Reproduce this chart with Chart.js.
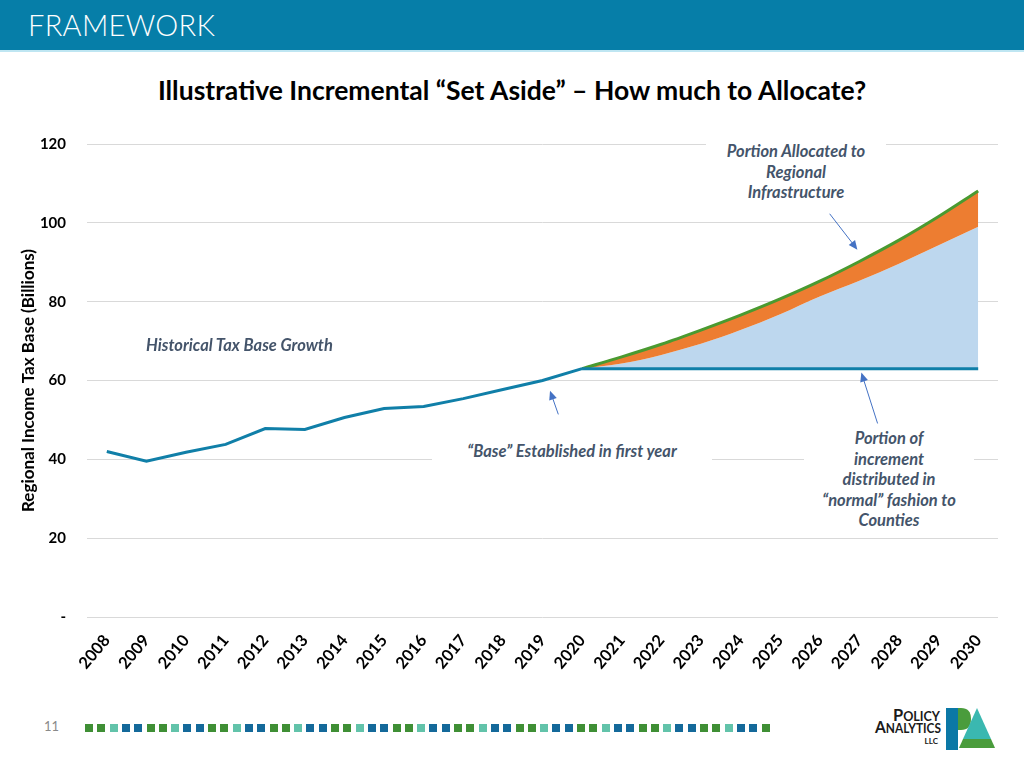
<!DOCTYPE html>
<html lang="en">
<head>
    <meta charset="UTF-8">
    <title>Framework - Incremental Set Aside</title>
    <script src="https://cdn.jsdelivr.net/npm/chart.js"></script>
    <style>
        body {
            margin: 0;
            width: 1024px;
            height: 768px;
            position: relative;
            overflow: hidden;
            background: #fff;
            font-family: Lato, "Open Sans", sans-serif;
        }

        .header {
            position: absolute;
            left: 0; top: 0;
            width: 1024px; height: 50px;
            background: #067ea8;
            border-bottom: 2px solid #bfe6f2;
        }

        .header span {
            position: absolute;
            left: 28px; top: 7px;
            color: #fff;
            font-size: 29px;
            font-weight: 300;
            letter-spacing: 0.3px;
        }

        .title {
            position: absolute;
            left: 0; top: 74px;
            width: 1024px;
            text-align: center;
            font-size: 26.5px;
            font-weight: bold;
            color: #000;
        }

        .chart-box {
            position: absolute;
            left: 0; top: 114px;
            width: 1010px; height: 576px;
        }

        .note {
            position: absolute;
            background: #fff;
            color: #44546a;
            font-size: 16.5px;
            font-weight: bold;
            font-style: italic;
            text-align: center;
            line-height: 20.5px;
        }

        .page-num {
            position: absolute;
            left: 44px; top: 718px;
            font-size: 13px;
            color: #8a8a8a;
        }

        .dashes {
            position: absolute;
            left: 85px; top: 724px;
            height: 8px;
        }

        .dashes div {
            position: absolute;
            top: 0;
            width: 8px; height: 8px;
        }

        .logo {
            position: absolute;
            left: 858px; top: 702px;
            width: 140px; height: 50px;
        }
    </style>
</head>
<body>
    <div class="header"><span>FRAMEWORK</span></div>
    <div class="title">Illustrative Incremental “Set Aside” – How much to Allocate?</div>

    <div class="chart-box">
        <canvas id="setAsideChart" width="1010" height="576"></canvas>
    </div>

    <div class="note" style="left:706px; top:141px; width:180px;">Portion Allocated to<br>Regional<br>Infrastructure</div>
    <div class="note" style="left:146px; top:335px; background:transparent; text-align:left;">Historical Tax Base Growth</div>
    <div class="note" style="left:432px; top:441px; width:280px;">“Base” Established in first year</div>
    <div class="note" style="left:804px; top:428px; width:170px;">Portion of<br>increment<br>distributed in<br>“normal” fashion to<br>Counties</div>

    <div class="page-num">11</div>
    <div class="dashes" id="dashes"></div>

    <svg class="logo" viewBox="0 0 140 50">
        <text x="82" y="19" text-anchor="end" font-family="Lato, sans-serif" font-size="17" font-weight="bold" fill="#1a1a1a" textLength="47" lengthAdjust="spacingAndGlyphs">P<tspan font-size="13">OLICY</tspan></text>
        <text x="83" y="31" text-anchor="end" font-family="Lato, sans-serif" font-size="17" font-weight="bold" fill="#1a1a1a" textLength="66" lengthAdjust="spacingAndGlyphs">A<tspan font-size="13">NALYTICS</tspan></text>
        <text x="80" y="42" text-anchor="end" font-family="Lato, sans-serif" font-size="8" font-weight="bold" fill="#1a1a1a">LLC</text>
        <path d="M88 6 L100 6 L100 48 L88 48 Z" fill="#0b78a6"/>
        <path d="M100 6 L103 6 Q113 6 113 17 Q113 28 103 28 L100 28 Z" fill="#4a9c3c"/>
        <path d="M119 6 L133 37 L105 37 Z" fill="#3ab8b0"/>
        <path d="M105 37 L133 37 L137 46 L101 46 Z" fill="#4a9c3c"/>
    </svg>

    <script>
        // ---- chart data (Billions) ----
        const years = ['2008', '2009', '2010', '2011', '2012', '2013', '2014', '2015', '2016', '2017', '2018', '2019',
                       '2020', '2021', '2022', '2023', '2024', '2025', '2026', '2027', '2028', '2029', '2030'];

        const historicalBase = [42.0, 39.5, 41.8, 43.8, 47.8, 47.6, 50.6, 52.9, 53.4, 55.4, 57.7, 60.0,
                                63.0, null, null, null, null, null, null, null, null, null, null];

        const baseYearLevel = [null, null, null, null, null, null, null, null, null, null, null, null,
                               63.0, 63.0, 63.0, 63.0, 63.0, 63.0, 63.0, 63.0, 63.0, 63.0, 63.0];

        const normalPortion = [null, null, null, null, null, null, null, null, null, null, null, null,
                               63.0, 64.3, 66.5, 69.3, 72.8, 76.8, 81.3, 85.3, 89.6, 94.3, 99.0];

        const totalTaxBase = [null, null, null, null, null, null, null, null, null, null, null, null,
                              63.0, 66.0, 69.2, 72.8, 76.6, 80.7, 85.2, 90.2, 95.6, 101.6, 108.1];

        const yTicks = [0, 20, 40, 60, 80, 100, 120];

        // arrows for the notes, in chart units: [category index, value]
        const arrows = [
            { from: [18.25, 102.3], to: [18.95, 93.2] },
            { from: [11.40, 51.4], to: [11.19, 57.4] },
            { from: [19.46, 49.1], to: [19.05, 62.0] }
        ];

        // footer dashes
        const dashColors = ['#3f8f35', '#3f8f35', '#62c3aa', '#14699a', '#14699a'];
        const dashBox = document.getElementById('dashes');
        for (let i = 0; i < 56; i++) {
            const d = document.createElement('div');
            d.style.left = (i * 12.3) + 'px';
            d.style.background = dashColors[i % dashColors.length];
            dashBox.appendChild(d);
        }

        const lineBlue = '#107fa8';

        const arrowPlugin = {
            id: 'noteArrows',
            afterDatasetsDraw(chart) {
                const ctx = chart.ctx;
                const xs = chart.scales.x, ys = chart.scales.y;
                const step = xs.getPixelForValue(1) - xs.getPixelForValue(0);
                const px = v => xs.getPixelForValue(0) + v * step;
                ctx.save();
                ctx.strokeStyle = '#4472c4';
                ctx.fillStyle = '#4472c4';
                ctx.lineWidth = 1;
                arrows.forEach(a => {
                    const x1 = px(a.from[0]), y1 = ys.getPixelForValue(a.from[1]);
                    const x2 = px(a.to[0]), y2 = ys.getPixelForValue(a.to[1]);
                    const ang = Math.atan2(y2 - y1, x2 - x1);
                    ctx.beginPath();
                    ctx.moveTo(x1, y1);
                    ctx.lineTo(x2 - 6 * Math.cos(ang), y2 - 6 * Math.sin(ang));
                    ctx.stroke();
                    ctx.beginPath();
                    ctx.moveTo(x2, y2);
                    ctx.lineTo(x2 - 9 * Math.cos(ang) + 4 * Math.sin(ang), y2 - 9 * Math.sin(ang) - 4 * Math.cos(ang));
                    ctx.lineTo(x2 - 9 * Math.cos(ang) - 4 * Math.sin(ang), y2 - 9 * Math.sin(ang) + 4 * Math.cos(ang));
                    ctx.closePath();
                    ctx.fill();
                });
                ctx.restore();
            }
        };

        const ctx = document.getElementById('setAsideChart').getContext('2d');
        new Chart(ctx, {
            type: 'line',
            data: {
                labels: years,
                datasets: [
                    {
                        label: 'Historical Tax Base',
                        data: historicalBase,
                        borderColor: lineBlue,
                        borderWidth: 3,
                        pointRadius: 0,
                        tension: 0,
                        fill: false
                    },
                    {
                        label: 'Base Year Level',
                        data: baseYearLevel,
                        borderColor: lineBlue,
                        borderWidth: 3,
                        pointRadius: 0,
                        fill: false
                    },
                    {
                        label: 'Total Tax Base',
                        data: totalTaxBase,
                        borderColor: '#4a9a30',
                        borderWidth: 3,
                        pointRadius: 0,
                        cubicInterpolationMode: 'monotone',
                        backgroundColor: '#ed7d31',
                        fill: { target: 3, above: '#ed7d31', below: '#ed7d31' }
                    },
                    {
                        label: 'Normal Distribution',
                        data: normalPortion,
                        borderWidth: 0,
                        borderColor: 'rgba(0,0,0,0)',
                        pointRadius: 0,
                        cubicInterpolationMode: 'monotone',
                        backgroundColor: '#bdd7ee',
                        fill: { target: 1, above: '#bdd7ee', below: '#bdd7ee' }
                    }
                ]
            },
            options: {
                responsive: false,
                animation: false,
                layout: { padding: { top: 13, right: 12, left: 0, bottom: 0 } },
                plugins: {
                    legend: { display: false },
                    tooltip: { enabled: false },
                    filler: { propagate: false }
                },
                scales: {
                    x: {
                        offset: true,
                        grid: { display: false },
                        border: { display: false },
                        ticks: {
                            color: '#000',
                            font: { family: 'Lato, sans-serif', size: 16.5, weight: 'bold' },
                            minRotation: 50,
                            maxRotation: 50,
                            padding: 6
                        },
                        afterFit(scale) { scale.height = 73; }
                    },
                    y: {
                        min: 0,
                        max: 120,
                        afterBuildTicks(scale) { scale.ticks = yTicks.map(v => ({ value: v })); },
                        grid: { color: '#d9d9d9', lineWidth: 1, drawTicks: false },
                        border: { display: false },
                        ticks: {
                            color: '#000',
                            font: { family: 'Lato, sans-serif', size: 15, weight: 'bold' },
                            padding: 21,
                            callback: v => v === 0 ? '-' : v
                        },
                        title: {
                            display: true,
                            text: 'Regional Income Tax Base (Billions)',
                            color: '#000',
                            font: { family: 'Lato, sans-serif', size: 17, weight: 'bold' },
                            padding: { top: 18, bottom: 0 }
                        },
                        afterFit(scale) { scale.width = 87; }
                    }
                }
            },
            plugins: [arrowPlugin]
        });
    </script>
</body>
</html>
